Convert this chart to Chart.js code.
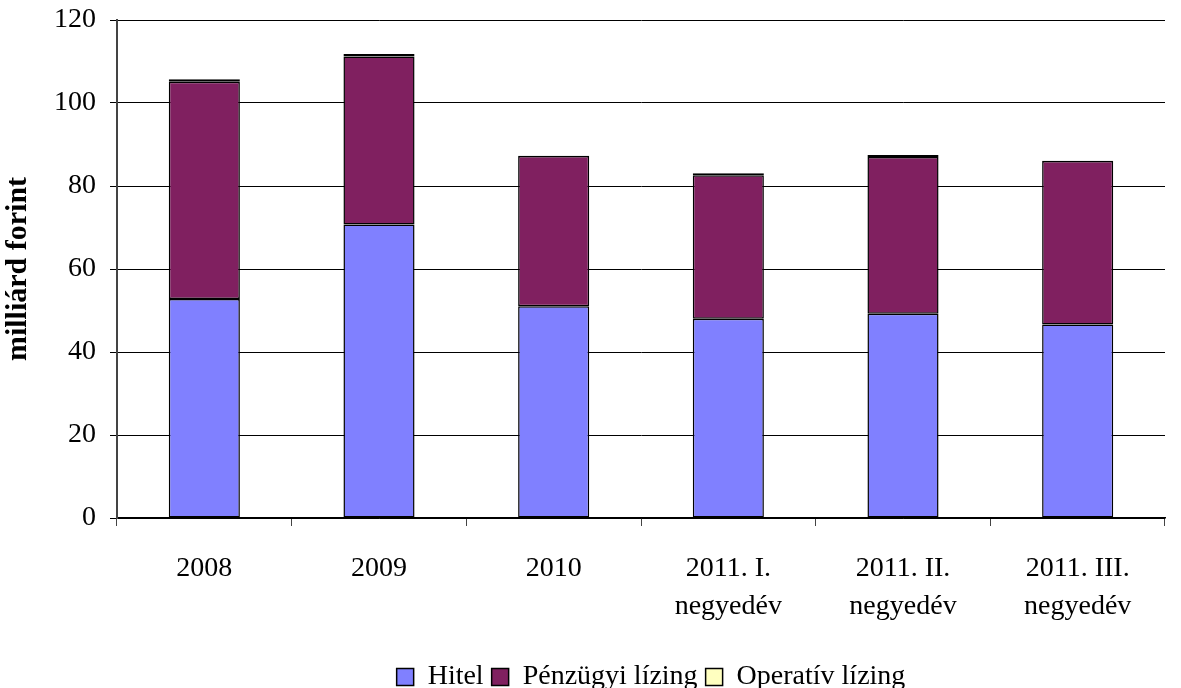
<!DOCTYPE html>
<html>
<head>
<meta charset="utf-8">
<script src="https://cdn.jsdelivr.net/npm/chart.js@4/dist/chart.umd.min.js"></script>
<style>
    html, body { margin: 0; padding: 0; background: #fff; }
    #wrap { width: 1181px; height: 688px; }
</style>
</head>
<body>
<div id="wrap"><canvas id="loanChart" width="1181" height="688"></canvas></div>
<script>
// Categories and series (milliárd forint)
const categories = ['2008', '2009', '2010', ['2011. I.', 'negyedév'], ['2011. II.', 'negyedév'], ['2011. III.', 'negyedév']];
const hitel = [52.8, 70.7, 51.0, 48.0, 49.2, 46.6];
const penzugyiLizing = [52.3, 40.5, 36.2, 34.6, 37.8, 39.4];
const operativLizing = [0.6, 0.6, 0.1, 0.5, 0.5, 0.1];
const yTicks = [0, 20, 40, 60, 80, 100, 120];

const serif = '"Liberation Serif", "Times New Roman", serif';
Chart.defaults.font.family = serif;
Chart.defaults.color = '#000';

// Legend sits centred under the plot area rather than the whole canvas
const legendShift = {
    id: 'legendShift',
    afterLayout(chart) {
        const lg = chart.legend;
        if (!lg) return;
        const dx = (chart.chartArea.left + chart.chartArea.right) / 2 + 10 - (lg.left + lg.right) / 2;
        lg.left += dx;
        lg.right += dx;
    }
};

document.addEventListener('DOMContentLoaded', function() {
    const ctx = document.getElementById('loanChart').getContext('2d');
    new Chart(ctx, {
        type: 'bar',
        data: {
            labels: categories,
            datasets: [
                { label: 'Hitel', data: hitel, backgroundColor: '#8080ff' },
                { label: 'Pénzügyi lízing', data: penzugyiLizing, backgroundColor: '#802060' },
                { label: 'Operatív lízing', data: operativLizing, backgroundColor: '#ffffc0' }
            ].map(ds => Object.assign(ds, {
                borderColor: '#000',
                borderWidth: 1.5,
                borderSkipped: false,
                barPercentage: 0.407,
                categoryPercentage: 1
            }))
        },
        plugins: [legendShift],
        options: {
            responsive: false,
            animation: false,
            layout: { padding: { top: 20, right: 16, left: 0, bottom: -13 } },
            plugins: {
                tooltip: { enabled: false },
                legend: {
                    position: 'bottom',
                    labels: {
                        boxWidth: 17,
                        boxHeight: 17,
                        padding: 8,
                        font: { size: 28 },
                        color: '#000'
                    }
                }
            },
            scales: {
                x: {
                    stacked: true,
                    grid: {
                        offset: true,
                        drawOnChartArea: false,
                        drawTicks: true,
                        tickLength: 8,
                        color: '#444'
                    },
                    border: { color: '#000', width: 1.5 },
                    ticks: { font: { size: 28, lineHeight: 1.35 }, padding: 24, maxRotation: 0 },
                    afterFit: s => { s.height = 137; }
                },
                y: {
                    stacked: true,
                    min: 0,
                    max: 120,
                    afterBuildTicks: s => { s.ticks = yTicks.map(v => ({ value: v })); },
                    grid: { color: '#000', lineWidth: 1, tickLength: 7 },
                    border: { color: '#444', width: 2 },
                    ticks: { font: { size: 28 }, padding: 14 },
                    title: {
                        display: true,
                        text: 'milliárd forint',
                        font: { size: 30, weight: 'bold' },
                        padding: { top: 0, bottom: 4 }
                    },
                    afterFit: s => { s.width = 117; s.paddingTop = 0; s.paddingBottom = 0; }
                }
            }
        }
    });
});
</script>
</body>
</html>
